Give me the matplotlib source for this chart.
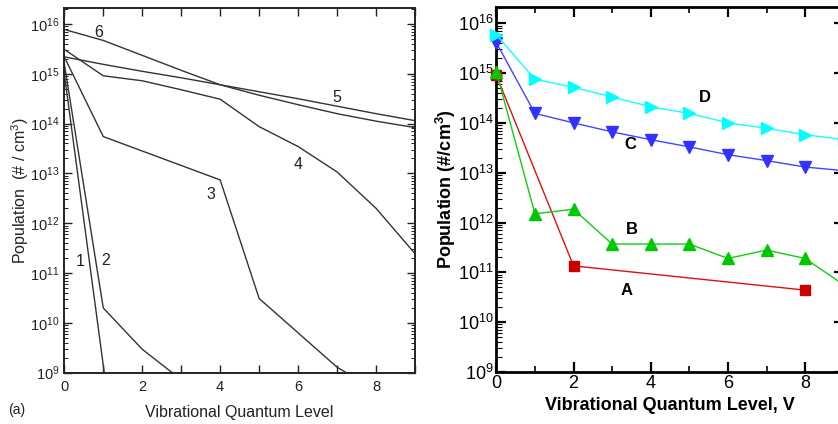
import numpy as np
import matplotlib
matplotlib.use("Agg")
import matplotlib.pyplot as plt
from matplotlib.ticker import LogLocator, FixedLocator, NullFormatter

plt.rcParams["font.family"] = ["Liberation Sans", "DejaVu Sans"]
plt.rcParams["mathtext.fontset"] = "custom"
plt.rcParams["mathtext.rm"] = "Liberation Sans"
plt.rcParams["mathtext.bf"] = "Liberation Sans:bold"

# ---- left panel (a): curves 1..6, log10 of population
left_x = [0, 1, 2, 3, 4, 5, 6, 7, 8, 9]
curve1 = [15.0, 9.15, 3.0]
curve2 = [15.2, 10.3, 9.47, 8.86]
curve3 = [15.34, 13.74, 13.45, 13.16, 12.87, 10.49, 9.8, 9.11, 8.65]
curve4 = [15.49, 14.96, 14.86, 14.68, 14.49, 13.94, 13.54, 13.03, 12.30, 11.39]
curve5 = [15.34, 15.19, 15.05, 14.92, 14.78, 14.64, 14.50, 14.35, 14.20, 14.06]
curve6 = [15.89, 15.67, 15.37, 15.07, 14.78, 14.57, 14.38, 14.20, 14.05, 13.92]
left_curves = [curve1, curve2, curve3, curve4, curve5, curve6]
left_labels = ["1", "2", "3", "4", "5", "6"]
left_label_pos = [(0.40, 11.23), (1.05, 11.26), (3.77, 12.57), (5.99, 13.17), (7.0, 14.53), (0.87, 15.83)]

# ---- right panel: series A..D
a_x = [0, 2, 8]
a_y = [9.0e14, 1.35e11, 4.4e10]
b_x = [0, 1, 2, 3, 4, 5, 6, 7, 8, 9]
b_y = [1.07e15, 1.5e12, 1.85e12, 3.7e11, 3.7e11, 3.7e11, 1.9e11, 2.8e11, 1.9e11, 5.6e10]
c_x = [0, 1, 2, 3, 4, 5, 6, 7, 8, 9]
c_y = [4.1e15, 1.55e14, 1.0e14, 6.6e13, 4.6e13, 3.3e13, 2.3e13, 1.75e13, 1.3e13, 1.1e13]
d_x = [0, 1, 2, 3, 4, 5, 6, 7, 8, 9]
d_y = [5.9e15, 7.5e14, 5.2e14, 3.3e14, 2.1e14, 1.55e14, 1.0e14, 7.8e13, 5.8e13, 4.6e13]
right_label_pos = {"A": (3.38, 4.4e10), "B": (3.51, 7.4e11), "C": (3.46, 3.6e13), "D": (5.4, 3.3e14)}

fig = plt.figure(figsize=(8.38, 4.24), dpi=100)

# ------------------------------------------------------------ left
ax1 = fig.add_axes([64.3 / 838, 51.3 / 424, 350.7 / 838, 364.4 / 424])
for vals in left_curves:
    xs = left_x[:len(vals)]
    ax1.plot(xs, 10 ** np.array(vals), color="#333333", lw=1.0)
for lab, (lx, ly) in zip(left_labels, left_label_pos):
    ax1.text(lx, 10 ** ly, lab, fontsize=11.5, color="#222222", ha="center", va="center")

ax1.set_yscale("log")
ax1.set_xlim(0, 9)
ax1.set_ylim(1e9, 10 ** 16.315)
ax1.xaxis.set_major_locator(FixedLocator([0, 2, 4, 6, 8]))
ax1.xaxis.set_minor_locator(FixedLocator([1, 3, 5, 7, 9]))
ax1.yaxis.set_major_locator(LogLocator(base=10, numticks=20))
ax1.yaxis.set_minor_locator(LogLocator(base=10, subs=np.arange(2, 10), numticks=20))
ax1.yaxis.set_minor_formatter(NullFormatter())
ax1.tick_params(which="both", direction="in", top=True, right=True, labelsize=10.5, colors="#222222")
ax1.tick_params(which="major", length=6, width=1.0)
ax1.tick_params(axis="x", which="minor", length=6, width=1.0)
ax1.tick_params(axis="y", which="minor", length=3, width=0.7)
ax1.tick_params(axis="x", pad=5)
for s in ax1.spines.values():
    s.set_linewidth(1.4)
    s.set_color("#222222")
ax1.set_xlabel("Vibrational Quantum Level", fontsize=11.5, color="#222222", labelpad=8)
ax1.set_ylabel("Population  (# / cm$^3$)", fontsize=11.5, color="#222222")
ax1.yaxis.set_label_coords(-0.094, 0.5)
fig.text(8 / 838, 1 - 410 / 424, "(a)", fontsize=10, color="#222222", va="center")

# ------------------------------------------------------------ right
ax2 = fig.add_axes([496.3 / 838, 52.0 / 424, 347.5 / 838, 364.7 / 424])
ax2.plot(a_x, a_y, color="#dd1111", lw=1.0, marker="s", ms=7, mfc="#cc0000", mec="#cc0000", clip_on=False, zorder=3)
ax2.plot(b_x, b_y, color="#11cc11", lw=1.0, marker="^", ms=8, mfc="#00c800", mec="#00c800", clip_on=False, zorder=3)
ax2.plot(c_x, c_y, color="#4444ff", lw=1.0, marker="v", ms=8, mfc="#3333ff", mec="#3333ff", clip_on=False, zorder=3)
ax2.plot(d_x, d_y, color="#11ffff", lw=1.0, marker=">", ms=8, mfc="#00ffff", mec="#00ffff", clip_on=False, zorder=3)
for lab, (lx, ly) in right_label_pos.items():
    ax2.text(lx, ly, lab, fontsize=12, fontweight="bold", ha="center", va="center")

ax2.set_yscale("log")
ax2.set_xlim(0, 9)
ax2.set_ylim(1e9, 10 ** 16.32)
ax2.xaxis.set_major_locator(FixedLocator([0, 2, 4, 6, 8]))
ax2.xaxis.set_minor_locator(FixedLocator([1, 3, 5, 7, 9]))
ax2.yaxis.set_major_locator(LogLocator(base=10, numticks=20))
ax2.yaxis.set_minor_locator(LogLocator(base=10, subs=np.arange(2, 10), numticks=20))
ax2.yaxis.set_minor_formatter(NullFormatter())
ax2.tick_params(which="both", direction="in", top=True, right=True, labelsize=13)
ax2.tick_params(which="major", length=7, width=1.6)
ax2.tick_params(axis="x", which="minor", length=4, width=1.2)
ax2.tick_params(axis="y", which="minor", length=4, width=0.8)
ax2.tick_params(axis="x", pad=2)
ax2.tick_params(axis="y", pad=2)
for s in ax2.spines.values():
    s.set_linewidth(2.0)
ax2.set_xlabel("Vibrational Quantum Level, V", fontsize=13, fontweight="bold", labelpad=4)
ax2.set_ylabel("Population (#/cm$^\\mathbf{3}$)", fontsize=13, fontweight="bold")
ax2.yaxis.set_label_coords(-0.11, 0.5)

fig.savefig("out.png", dpi=100)
